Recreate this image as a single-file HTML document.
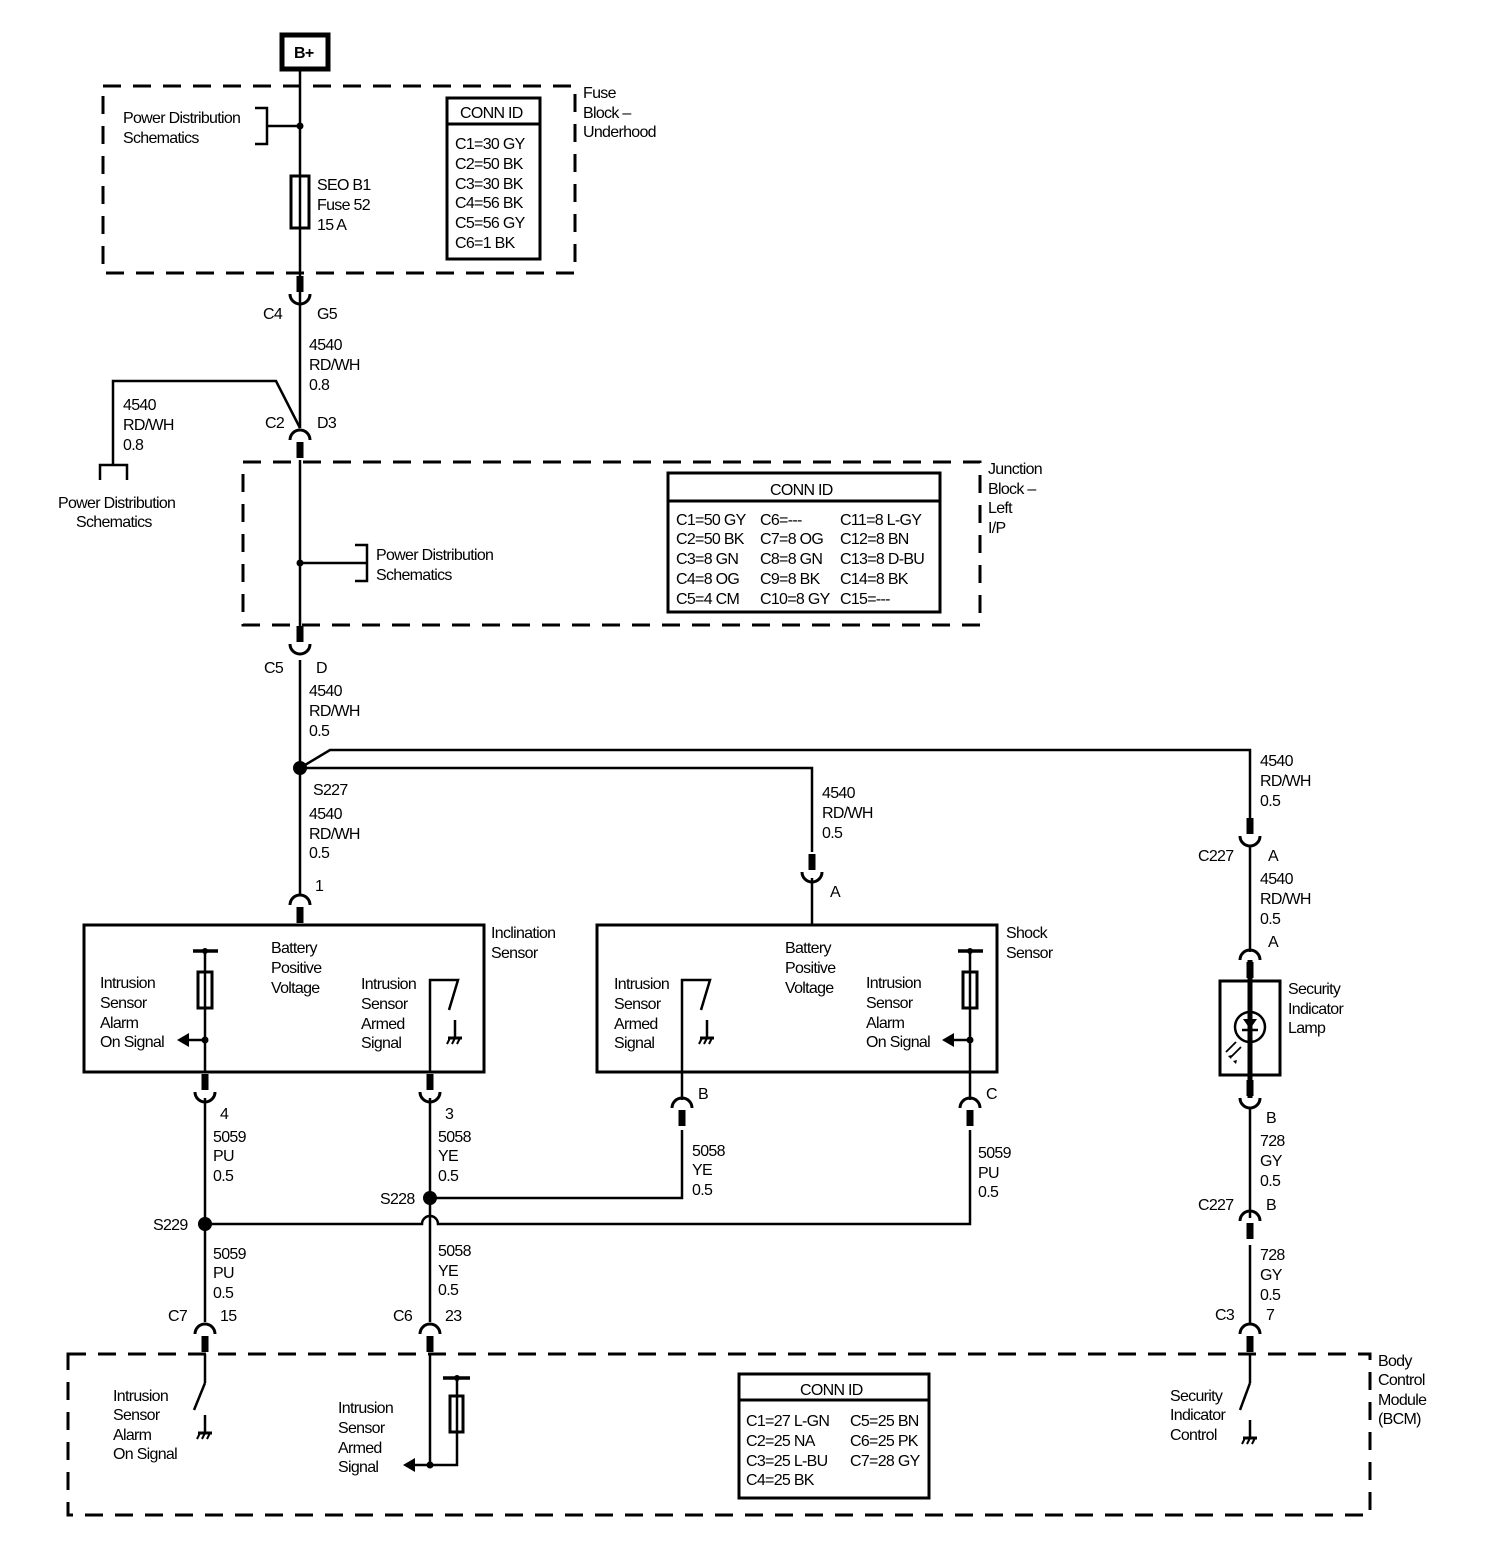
<!DOCTYPE html>
<html><head><meta charset="utf-8"><style>
html,body{margin:0;padding:0;background:#fff}
svg{display:block}
text{font-family:"Liberation Sans",sans-serif;font-size:16px;letter-spacing:-0.7px;fill:#000}
</style></head><body>
<svg width="1488" height="1568" viewBox="0 0 1488 1568" xmlns="http://www.w3.org/2000/svg">
<defs>
<g id="cap"><path d="M-10,8 A10,10 0 0 1 10,8" fill="none" stroke="#000" stroke-width="3"/><line x1="0" y1="10" x2="0" y2="26" stroke="#000" stroke-width="7"/></g>
<g id="cup"><line x1="0" y1="-16" x2="0" y2="0" stroke="#000" stroke-width="7"/><path d="M-10,2 A10,10 0 0 0 10,2" fill="none" stroke="#000" stroke-width="3"/></g>
<g id="gnd"><line x1="0" y1="0" x2="0" y2="18" stroke="#000" stroke-width="2.5"/><line x1="-7" y1="18" x2="7" y2="18" stroke="#000" stroke-width="3"/><path d="M-5,18 l-3,6 M0,18 l-3,6 M5,18 l-3,6" stroke="#000" stroke-width="2"/></g>
</defs>
<g fill="none" stroke="#000" stroke-width="3">
<!-- B+ -->
<rect x="282" y="35" width="46" height="34" stroke-width="5"/>
<!-- dashed boxes -->
<rect x="103" y="86" width="472" height="187" stroke-dasharray="18 12"/>
<rect x="243" y="462" width="737" height="163" stroke-dasharray="18 12"/>
<rect x="68" y="1354" width="1302" height="161" stroke-dasharray="18 12"/>
<!-- main wire -->
<line x1="300" y1="69" x2="300" y2="428" stroke-width="2.5"/>
<line x1="300" y1="460" x2="300" y2="627" stroke-width="2.5"/>
<line x1="300" y1="660" x2="300" y2="895" stroke-width="2.5"/>
<rect x="291" y="176" width="18" height="52" fill="#fff"/>
<path d="M255,108 H267 V144 H255 M267,126 H300" stroke-width="2.5"/>
<path d="M355,545 H367 V581 H355 M367,563 H300" stroke-width="2.5"/>
<!-- branch -->
<path d="M300,428 L276,381 H113 V465 M100,480 V465 H127 V480" stroke-width="2.5"/>
<!-- conn id boxes -->
<rect x="447" y="98" width="93" height="161"/><line x1="447" y1="124" x2="540" y2="124"/>
<rect x="668" y="473" width="272" height="139"/><line x1="668" y1="501" x2="940" y2="501"/>
<rect x="739" y="1374" width="190" height="124"/><line x1="739" y1="1400" x2="929" y2="1400"/>
<!-- S227 branches -->
<path d="M300,768 L330,750 H1250 V832" stroke-width="2.5"/>
<path d="M300,768 H812 V852" stroke-width="2.5"/>
<line x1="812" y1="878" x2="812" y2="925" stroke-width="2.5"/>
<line x1="1250" y1="846" x2="1250" y2="952" stroke-width="2.5"/>
<!-- lamp -->
<rect x="1220" y="981" width="60" height="94"/>
<line x1="1250" y1="960" x2="1250" y2="1098" stroke-width="5"/>
<circle cx="1250" cy="1027" r="15" stroke-width="2.5"/>
<line x1="1242" y1="1030" x2="1258" y2="1030" stroke-width="2.5"/>
<path d="M1226,1052 l10,-10 M1231,1057 l10,-10" stroke-width="1.8"/>
<line x1="1250" y1="1108" x2="1250" y2="1218" stroke-width="2.5"/>
<line x1="1250" y1="1245" x2="1250" y2="1325" stroke-width="2.5"/>
<line x1="1250" y1="1354" x2="1250" y2="1383" stroke-width="2.5"/>
<line x1="1250" y1="1383" x2="1240" y2="1410" stroke-width="2.5"/>
<!-- sensor boxes -->
<rect x="84" y="925" width="400" height="147"/>
<rect x="597" y="925" width="400" height="147"/>
<!-- incl left -->
<line x1="193" y1="951" x2="218" y2="951" stroke-width="3.5"/>
<line x1="205" y1="951" x2="205" y2="1072" stroke-width="2.5"/>
<rect x="198" y="972" width="14" height="36" fill="#fff"/>
<line x1="205" y1="1040" x2="186" y2="1040" stroke-width="2.5"/>
<!-- incl right -->
<path d="M430,1072 V980 H458 L449,1010" stroke-width="2.5"/>
<!-- shock left -->
<path d="M682,1072 V980 H710 L701,1010" stroke-width="2.5"/>
<!-- shock right -->
<line x1="958" y1="951" x2="983" y2="951" stroke-width="3.5"/>
<line x1="970" y1="951" x2="970" y2="1100" stroke-width="2.5"/>
<rect x="963" y="972" width="14" height="36" fill="#fff"/>
<line x1="970" y1="1040" x2="951" y2="1040" stroke-width="2.5"/>
<line x1="682" y1="1072" x2="682" y2="1100" stroke-width="2.5"/>
<!-- lower wires -->
<line x1="205" y1="1098" x2="205" y2="1322" stroke-width="2.5"/>
<line x1="430" y1="1098" x2="430" y2="1322" stroke-width="2.5"/>
<path d="M430,1198 H682 V1130" stroke-width="2.5"/>
<path d="M205,1224 H422 A8,8 0 0 1 438,1224 H970 V1130" stroke-width="2.5"/>
<!-- BCM internals -->
<line x1="205" y1="1354" x2="205" y2="1383" stroke-width="2.5"/>
<line x1="205" y1="1383" x2="194" y2="1410" stroke-width="2.5"/>
<path d="M430,1354 V1465 H457 V1378" stroke-width="2.5"/>
<line x1="443" y1="1378" x2="470" y2="1378" stroke-width="3.5"/>
<rect x="450" y="1396" width="13" height="36" fill="#fff"/>
<line x1="430" y1="1465" x2="412" y2="1465" stroke-width="2.5"/>
</g>
<!-- fuse line through -->
<line x1="300" y1="176" x2="300" y2="228" stroke="#000" stroke-width="2.5"/>
<line x1="205" y1="972" x2="205" y2="1008" stroke="#000" stroke-width="2.5"/>
<line x1="970" y1="972" x2="970" y2="1008" stroke="#000" stroke-width="2.5"/>
<line x1="457" y1="1396" x2="457" y2="1432" stroke="#000" stroke-width="2.5"/>
<!-- diode -->
<path d="M1243,1019 H1257 L1250,1029 Z" fill="#000"/>
<path d="M1228,1056 l4,-1 l-1,4 Z M1233,1061 l4,-1 l-1,4 Z" fill="#000"/>
<!-- arrows -->
<path d="M177,1040 L189,1033 V1047 Z" fill="#000"/>
<path d="M942,1040 L954,1033 V1047 Z" fill="#000"/>
<path d="M403,1465 L415,1458 V1472 Z" fill="#000"/>
<!-- grounds -->
<use href="#gnd" x="455" y="1020"/>
<use href="#gnd" x="707" y="1020"/>
<use href="#gnd" x="205" y="1415"/>
<use href="#gnd" x="1250" y="1420"/>
<!-- dots -->
<g fill="#000">
<circle cx="300" cy="126" r="3.5"/><circle cx="300" cy="563" r="3.5"/>
<circle cx="300" cy="768" r="7"/><circle cx="430" cy="1198" r="7"/><circle cx="205" cy="1224" r="7"/>
<circle cx="205" cy="1040" r="3.5"/><circle cx="970" cy="1040" r="3.5"/><circle cx="430" cy="1465" r="3.5"/>
<circle cx="205" cy="951" r="3"/><circle cx="970" cy="951" r="3"/><circle cx="457" cy="1378" r="3"/>
</g>
<!-- connectors -->
<use href="#cup" x="300" y="292"/>
<use href="#cap" x="300" y="432"/>
<use href="#cup" x="300" y="642"/>
<use href="#cap" x="300" y="897"/>
<use href="#cup" x="812" y="870"/>
<use href="#cup" x="1250" y="834"/>
<use href="#cap" x="1250" y="952"/>
<use href="#cup" x="1250" y="1096"/>
<use href="#cap" x="1250" y="1213"/>
<use href="#cap" x="1250" y="1326"/>
<use href="#cup" x="205" y="1090"/>
<use href="#cup" x="430" y="1090"/>
<use href="#cap" x="682" y="1100"/>
<use href="#cap" x="970" y="1100"/>
<use href="#cap" x="205" y="1326"/>
<use href="#cap" x="430" y="1326"/>
<!-- text -->
<text x="294" y="58" font-weight="bold">B+</text>
<text x="123" y="123">Power Distribution</text><text x="123" y="143">Schematics</text>
<text x="317" y="190">SEO B1</text><text x="317" y="210">Fuse 52</text><text x="317" y="230">15 A</text>
<text x="460" y="118">CONN ID</text>
<text x="455" y="149">C1=30 GY</text><text x="455" y="169">C2=50 BK</text><text x="455" y="189">C3=30 BK</text><text x="455" y="208">C4=56 BK</text><text x="455" y="228">C5=56 GY</text><text x="455" y="248">C6=1 BK</text>
<text x="583" y="98">Fuse</text><text x="583" y="118">Block –</text><text x="583" y="137">Underhood</text>
<text x="263" y="319">C4</text><text x="317" y="319">G5</text>
<text x="309" y="350">4540</text><text x="309" y="370">RD/WH</text><text x="309" y="390">0.8</text>
<text x="123" y="410">4540</text><text x="123" y="430">RD/WH</text><text x="123" y="450">0.8</text>
<text x="265" y="428">C2</text><text x="317" y="428">D3</text>
<text x="58" y="508">Power Distribution</text><text x="76" y="527">Schematics</text>
<text x="376" y="560">Power Distribution</text><text x="376" y="580">Schematics</text>
<text x="770" y="495">CONN ID</text>
<text x="676" y="525">C1=50 GY</text><text x="760" y="525">C6=---</text><text x="840" y="525">C11=8 L-GY</text>
<text x="676" y="544">C2=50 BK</text><text x="760" y="544">C7=8 OG</text><text x="840" y="544">C12=8 BN</text>
<text x="676" y="564">C3=8 GN</text><text x="760" y="564">C8=8 GN</text><text x="840" y="564">C13=8 D-BU</text>
<text x="676" y="584">C4=8 OG</text><text x="760" y="584">C9=8 BK</text><text x="840" y="584">C14=8 BK</text>
<text x="676" y="604">C5=4 CM</text><text x="760" y="604">C10=8 GY</text><text x="840" y="604">C15=---</text>
<text x="988" y="474">Junction</text><text x="988" y="494">Block –</text><text x="988" y="513">Left</text><text x="988" y="533">I/P</text>
<text x="264" y="673">C5</text><text x="316" y="673">D</text>
<text x="309" y="696">4540</text><text x="309" y="716">RD/WH</text><text x="309" y="736">0.5</text>
<text x="313" y="795">S227</text>
<text x="309" y="819">4540</text><text x="309" y="839">RD/WH</text><text x="309" y="858">0.5</text>
<text x="315" y="891">1</text>
<text x="822" y="798">4540</text><text x="822" y="818">RD/WH</text><text x="822" y="838">0.5</text>
<text x="830" y="897">A</text>
<text x="1260" y="766">4540</text><text x="1260" y="786">RD/WH</text><text x="1260" y="806">0.5</text>
<text x="1198" y="861">C227</text><text x="1268" y="861">A</text>
<text x="1260" y="884">4540</text><text x="1260" y="904">RD/WH</text><text x="1260" y="924">0.5</text>
<text x="1268" y="947">A</text>
<text x="1288" y="994">Security</text><text x="1288" y="1014">Indicator</text><text x="1288" y="1033">Lamp</text>
<text x="1266" y="1123">B</text>
<text x="1260" y="1146">728</text><text x="1260" y="1166">GY</text><text x="1260" y="1186">0.5</text>
<text x="1198" y="1210">C227</text><text x="1266" y="1210">B</text>
<text x="1260" y="1260">728</text><text x="1260" y="1280">GY</text><text x="1260" y="1300">0.5</text>
<text x="1215" y="1320">C3</text><text x="1266" y="1320">7</text>
<text x="491" y="938">Inclination</text><text x="491" y="958">Sensor</text>
<text x="1006" y="938">Shock</text><text x="1006" y="958">Sensor</text>
<text x="271" y="953">Battery</text><text x="271" y="973">Positive</text><text x="271" y="993">Voltage</text>
<text x="785" y="953">Battery</text><text x="785" y="973">Positive</text><text x="785" y="993">Voltage</text>
<text x="100" y="988">Intrusion</text><text x="100" y="1008">Sensor</text><text x="100" y="1028">Alarm</text><text x="100" y="1047">On Signal</text>
<text x="361" y="989">Intrusion</text><text x="361" y="1009">Sensor</text><text x="361" y="1029">Armed</text><text x="361" y="1048">Signal</text>
<text x="614" y="989">Intrusion</text><text x="614" y="1009">Sensor</text><text x="614" y="1029">Armed</text><text x="614" y="1048">Signal</text>
<text x="866" y="988">Intrusion</text><text x="866" y="1008">Sensor</text><text x="866" y="1028">Alarm</text><text x="866" y="1047">On Signal</text>
<text x="220" y="1119">4</text><text x="213" y="1142">5059</text><text x="213" y="1161">PU</text><text x="213" y="1181">0.5</text>
<text x="445" y="1119">3</text><text x="438" y="1142">5058</text><text x="438" y="1161">YE</text><text x="438" y="1181">0.5</text>
<text x="698" y="1099">B</text><text x="986" y="1099">C</text>
<text x="692" y="1156">5058</text><text x="692" y="1175">YE</text><text x="692" y="1195">0.5</text>
<text x="978" y="1158">5059</text><text x="978" y="1178">PU</text><text x="978" y="1197">0.5</text>
<text x="380" y="1204">S228</text><text x="153" y="1230">S229</text>
<text x="213" y="1259">5059</text><text x="213" y="1278">PU</text><text x="213" y="1298">0.5</text>
<text x="438" y="1256">5058</text><text x="438" y="1276">YE</text><text x="438" y="1295">0.5</text>
<text x="168" y="1321">C7</text><text x="220" y="1321">15</text>
<text x="393" y="1321">C6</text><text x="445" y="1321">23</text>
<text x="1378" y="1366">Body</text><text x="1378" y="1385">Control</text><text x="1378" y="1405">Module</text><text x="1378" y="1424">(BCM)</text>
<text x="113" y="1401">Intrusion</text><text x="113" y="1420">Sensor</text><text x="113" y="1440">Alarm</text><text x="113" y="1459">On Signal</text>
<text x="338" y="1413">Intrusion</text><text x="338" y="1433">Sensor</text><text x="338" y="1453">Armed</text><text x="338" y="1472">Signal</text>
<text x="800" y="1395">CONN ID</text>
<text x="746" y="1426">C1=27 L-GN</text><text x="850" y="1426">C5=25 BN</text>
<text x="746" y="1446">C2=25 NA</text><text x="850" y="1446">C6=25 PK</text>
<text x="746" y="1466">C3=25 L-BU</text><text x="850" y="1466">C7=28 GY</text>
<text x="746" y="1485">C4=25 BK</text>
<text x="1170" y="1401">Security</text><text x="1170" y="1420">Indicator</text><text x="1170" y="1440">Control</text>
</svg>
</body></html>
